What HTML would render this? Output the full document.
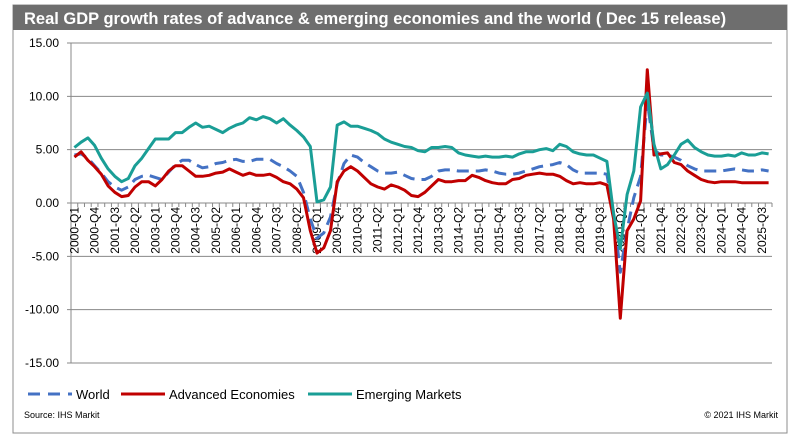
<!DOCTYPE html>
<html><head><meta charset="utf-8"><style>
body{margin:0;background:#fff;font-family:"Liberation Sans",Arial,sans-serif;}
svg{display:block}
</style></head><body>
<svg width="805" height="447" xmlns="http://www.w3.org/2000/svg">
<rect x="13" y="5" width="774" height="428" fill="#fff" stroke="#8c8c8c" stroke-width="1"/>
<rect x="13" y="5" width="774" height="25" fill="#6e6e6e"/>
<text x="24" y="24" fill="#fff" font-size="16.5" font-weight="bold">Real GDP growth rates of advance &amp; emerging economies and the world ( Dec 15 release)</text>
<g id="grid"></g><g id="xlab"></g><g id="ylab"></g><g id="series"></g>
<g>
<line x1="28" y1="394" x2="72" y2="394" stroke="#4472C4" stroke-width="3" stroke-dasharray="12,8"/>
<text x="76" y="399" font-size="13">World</text>
<line x1="121" y1="394" x2="165" y2="394" stroke="#C00000" stroke-width="3"/>
<text x="169" y="399" font-size="13">Advanced Economies</text>
<line x1="308" y1="394" x2="352" y2="394" stroke="#1A9E96" stroke-width="3"/>
<text x="356" y="399" font-size="13">Emerging Markets</text>
</g>
<text x="24" y="418" font-size="9">Source: IHS Markit</text>
<text x="778" y="418" font-size="9" text-anchor="end">© 2021 IHS Markit</text>
</svg>
<script>
const yTicks=[15,10,5,0,-5,-10,-15];
const world=[4.5,4.6,4.2,3.5, 2.8,2.0,1.5,1.2, 1.5,2.2,2.5,2.6, 2.4,2.2,2.9,3.6, 4.0,4.0,3.6,3.3, 3.4,3.7,3.8,4.0, 4.1,3.9,3.9,4.1, 4.1,4.1,3.7,3.4, 3.0,2.5,1.0,-1.5, -3.3,-2.8,-1.3,1.8, 3.7,4.5,4.3,3.8, 3.4,3.0,2.8,2.8, 2.9,2.6,2.3,2.2, 2.2,2.5,3.0,3.1, 3.1,3.0,3.0,3.0, 3.0,3.1,3.0,2.8, 2.7,2.7,2.8,3.0, 3.2,3.4,3.5,3.6, 3.8,3.6,3.1,2.8, 2.8,2.8,2.8,2.7, -1.0,-6.5,-2.5,0.5, 2.5,9.5,5.0,4.5, 4.5,4.3,4.0,3.5, 3.2,3.0,3.0,3.0, 3.0,3.1,3.2,3.1, 3.0,3.0,3.1,3.0];
const advanced=[4.3,4.8,4.0,3.4, 2.7,1.6,1.0,0.6, 0.7,1.5,2.0,2.0, 1.6,2.2,3.0,3.5, 3.5,3.0,2.5,2.5, 2.6,2.8,2.9,3.2, 2.9,2.6,2.8,2.6, 2.6,2.7,2.4,2.0, 1.8,1.3,0.5,-2.6, -4.7,-4.2,-2.6,2.0, 3.0,3.4,3.0,2.4, 1.8,1.5,1.3,1.7, 1.5,1.2,0.7,0.6, 1.0,1.6,2.2,2.0, 2.0,2.1,2.1,2.6, 2.4,2.1,1.9,1.8, 1.8,2.2,2.3,2.6, 2.7,2.8,2.7,2.7, 2.5,2.1,1.8,1.9, 1.8,1.8,1.9,1.7, -1.5,-10.8,-2.6,-1.5, 0.2,12.5,4.5,4.6, 4.7,3.8,3.6,3.0, 2.6,2.2,2.0,1.9, 2.0,2.0,2.0,1.9, 1.9,1.9,1.9,1.9];
const emerging=[5.2,5.7,6.1,5.4, 4.2,3.2,2.5,2.0, 2.3,3.5,4.2,5.1, 6.0,6.0,6.0,6.6, 6.6,7.1,7.5,7.1, 7.2,6.9,6.6,7.0, 7.3,7.5,8.0,7.8, 8.1,7.9,7.5,7.9, 7.3,6.8,6.2,5.3, 0.1,0.3,1.5,7.3, 7.6,7.2,7.2,7.0, 6.8,6.5,6.0,5.7, 5.5,5.3,5.2,4.9, 4.8,5.2,5.2,5.3, 5.2,4.7,4.5,4.4, 4.3,4.4,4.3,4.3, 4.4,4.3,4.6,4.8, 4.8,5.0,5.1,4.9, 5.5,5.3,4.8,4.6, 4.5,4.5,4.2,3.9, -1.0,-4.3,0.8,3.0, 9.0,10.3,5.5,3.2, 3.6,4.5,5.5,5.9, 5.2,4.8,4.5,4.4, 4.4,4.5,4.4,4.7, 4.5,4.5,4.7,4.6];
const categories=[];for(let y=2000;y<=2025;y++)for(let q=1;q<=4;q++)categories.push(y+'-Q'+q);

const NS='http://www.w3.org/2000/svg';
const L=71,R=772,T=43,B=363;
const bw=(R-L)/categories.length;
const X=i=>L+(i+0.5)*bw;
const Y=v=>T+(15-v)*(B-T)/30;
function mk(tag,attrs,parent){const e=document.createElementNS(NS,tag);for(const k in attrs)e.setAttribute(k,attrs[k]);parent.appendChild(e);return e;}
const grid=document.getElementById('grid'),ylab=document.getElementById('ylab'),xlab=document.getElementById('xlab'),ser=document.getElementById('series');
yTicks.forEach(v=>{
  const g=mk('line',{x1:L-4,x2:R,y1:Y(v),y2:Y(v),stroke:'#888','stroke-width':1},grid);
  
  
  const t=mk('text',{x:59,y:Y(v)+4,'font-size':12,'text-anchor':'end'},ylab);
  t.textContent=v.toFixed(2);
  
  
});
const ax=mk('line',{x1:L,x2:L,y1:T,y2:B,stroke:'#888','stroke-width':1},grid);


for(let i=0;i<=categories.length;i++){
  const tk=mk('line',{x1:L+i*bw,x2:L+i*bw,y1:Y(0),y2:Y(0)+4,stroke:'#888','stroke-width':1},grid);
  
  
}
categories.forEach((c,i)=>{
  if(i%3) return;
  const t=mk('text',{x:0,y:0,'font-size':12,'text-anchor':'end',transform:`translate(${X(i)+4},${Y(0)+4}) rotate(-90)`},xlab);
  t.textContent=c;
  
  
});
function line(data,color,name,dash){
  const d=data.map((v,i)=>(i?'L':'M')+X(i).toFixed(1)+','+Y(v).toFixed(1)).join('');
  const p=mk('path',{d:d,fill:'none',stroke:color,'stroke-width':3,'stroke-linejoin':'round'},ser);
  if(dash)p.setAttribute('stroke-dasharray',dash);
  
  
}
line(world,'#4472C4','world-line','12,7');
line(advanced,'#C00000','advanced-economies-line');
line(emerging,'#1A9E96','emerging-markets-line');
</script>
</body></html>
